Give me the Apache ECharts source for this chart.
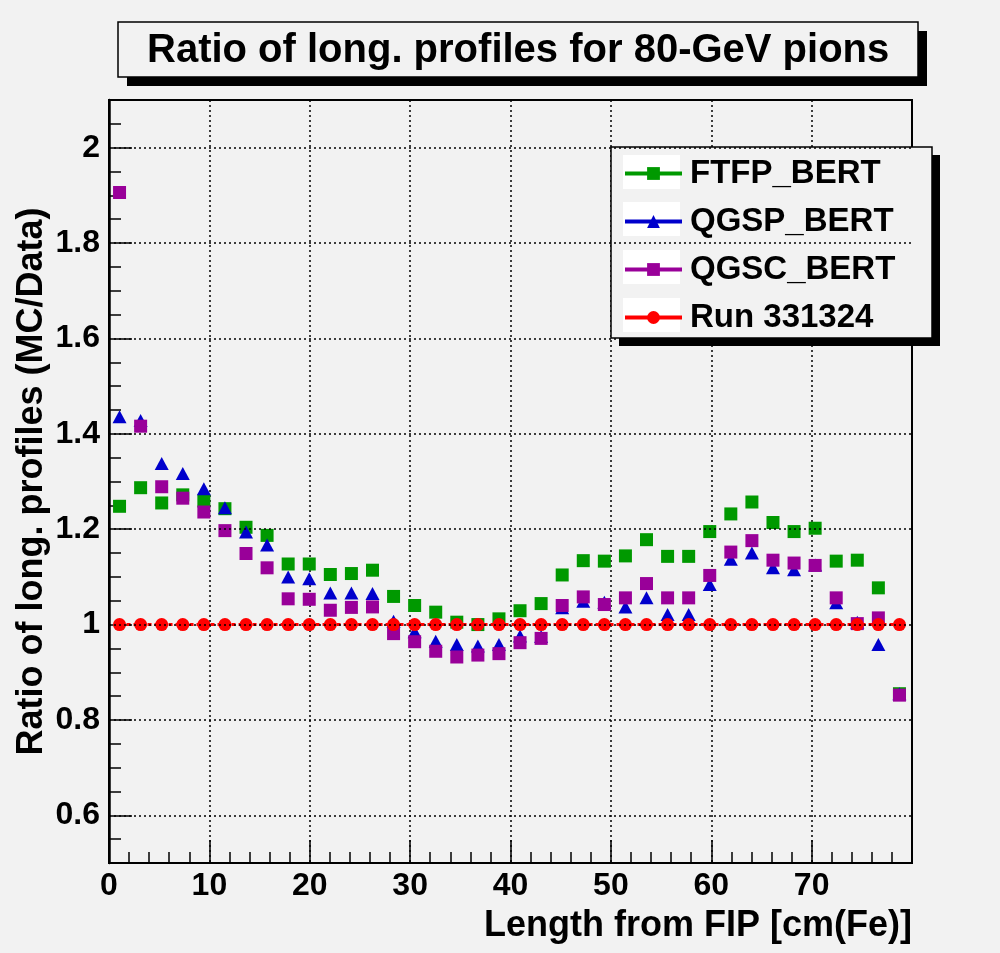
<!DOCTYPE html>
<html>
<head>
<meta charset="utf-8">
<script src="https://cdn.jsdelivr.net/npm/echarts@6/dist/echarts.min.js"></script>
<style>
html,body{margin:0;padding:0;background:#f2f2f2;}
#chart{width:1000px;height:953px;}
</style>
</head>
<body>
<div id="chart"></div>
<script>
// bin centres along the calorimeter (cm Fe)
const xCenters = [1.05,3.15,5.25,7.35,9.45,11.55,13.65,15.75,17.85,19.95,22.05,24.15,26.25,28.35,30.45,32.55,34.65,36.75,38.85,40.95,43.05,45.15,47.25,49.35,51.45,53.55,55.65,57.75,59.85,61.95,64.05,66.15,68.25,70.35,72.45,74.55,76.65,78.75];
const ftfpBert = [1.248,1.287,1.255,1.272,1.259,1.243,1.204,1.187,1.127,1.127,1.105,1.107,1.114,1.059,1.040,1.026,1.005,1.000,1.012,1.029,1.044,1.104,1.134,1.133,1.144,1.178,1.143,1.143,1.195,1.232,1.257,1.214,1.195,1.202,1.133,1.135,1.077,0.855];
const qgspBert = [1.436,1.428,1.338,1.317,1.285,1.245,1.194,1.167,1.100,1.096,1.066,1.066,1.065,1.007,0.985,0.965,0.958,0.955,0.958,0.976,0.975,1.035,1.049,1.047,1.037,1.056,1.021,1.021,1.084,1.137,1.150,1.119,1.115,1.125,1.046,1.005,0.958,0.855];
const qgscBert = [1.906,1.416,1.289,1.265,1.236,1.197,1.149,1.119,1.054,1.053,1.030,1.036,1.037,0.981,0.964,0.944,0.932,0.936,0.939,0.962,0.971,1.040,1.058,1.042,1.056,1.086,1.056,1.056,1.103,1.152,1.176,1.135,1.129,1.124,1.056,1.002,1.014,0.852];
const run331324 = [1,1,1,1,1,1,1,1,1,1,1,1,1,1,1,1,1,1,1,1,1,1,1,1,1,1,1,1,1,1,1,1,1,1,1,1,1,1];
const yMajorTicks = [0.6,0.8,1.0,1.2,1.4,1.6,1.8,2.0];
const yMinorTicks = [0.5,0.55,0.6,0.65,0.7,0.75,0.8,0.85,0.9,0.95,1.0,1.05,1.1,1.15,1.2,1.25,1.3,1.35,1.4,1.45,1.5,1.55,1.6,1.65,1.7,1.75,1.8,1.85,1.9,1.95,2.0,2.05,2.1];
const seriesNames = ['FTFP_BERT','QGSP_BERT','QGSC_BERT','Run 331324'];
const titleText = 'Ratio of long. profiles for 80-GeV pions';

const FONT = '"Liberation Sans", Arial, Helvetica, sans-serif';
function pairs(ys){ return xCenters.map((x,i)=>[x, ys[i]]); }

const chart = echarts.init(document.getElementById('chart'), null, {renderer:'canvas'});
const gridDotted = {color:'#000', width:1.5, type:[2,3]};

const option = {
  backgroundColor:'#f2f2f2',
  animation:false,
  title:{
    text:titleText, left:147, top:31, padding:0, z:6,
    textStyle:{fontFamily:FONT, fontSize:40, fontWeight:'bold', color:'#000'}
  },
  graphic:[
    // title box: shadow then box
    {type:'rect', z:1, shape:{x:127,y:31,width:800,height:55}, style:{fill:'#000'}},
    {type:'rect', z:1, z2:2, shape:{x:118,y:22,width:800,height:55},
     style:{fill:'#f2f2f2', stroke:'#000', lineWidth:1.5}},
    // legend box: shadow then box
    {type:'rect', z:3, shape:{x:619,y:155,width:321,height:191}, style:{fill:'#000'}},
    {type:'rect', z:3, z2:2, shape:{x:611,y:147,width:321,height:191},
     style:{fill:'#f2f2f2', stroke:'#000', lineWidth:1.5}},
    {type:'rect', z:3, z2:5, shape:{x:623,y:155,width:57,height:34}, style:{fill:'#fff'}},
    {type:'rect', z:3, z2:5, shape:{x:623,y:202,width:57,height:34}, style:{fill:'#fff'}},
    {type:'rect', z:3, z2:5, shape:{x:623,y:250,width:57,height:34}, style:{fill:'#fff'}},
    {type:'rect', z:3, z2:5, shape:{x:623,y:298,width:57,height:34}, style:{fill:'#fff'}}
  ],
  legend:{
    data:seriesNames, orient:'vertical', left:623, top:157, z:4,
    itemWidth:57, itemHeight:16, itemGap:15, padding:0,
    lineStyle:{width:4, type:'solid', opacity:1},
    textStyle:{fontFamily:FONT, fontSize:33, fontWeight:'bold', color:'#000', padding:[0,0,0,3]}
  },
  grid:{left:109, right:88, top:100, bottom:90, show:true, backgroundColor:'#f2f2f2', borderColor:'#000', borderWidth:2},
  xAxis:{
    type:'value', min:0, max:80, interval:10,
    name:'Length from FIP [cm(Fe)]', nameLocation:'end', nameGap:0,
    nameTextStyle:{fontFamily:FONT, fontSize:36, fontWeight:'bold', color:'#000', align:'right', verticalAlign:'top', padding:[45,0,0,0]},
    axisLine:{show:true, onZero:false, lineStyle:{color:'#000', width:2}},
    axisTick:{show:true, inside:true, length:23, lineStyle:{color:'#000', width:1.5}},
    minorTick:{show:true, splitNumber:5, length:11, lineStyle:{color:'#000', width:1.5}},
    axisLabel:{fontFamily:FONT, fontSize:32, fontWeight:'bold', color:'#000', margin:7, showMaxLabel:false},
    splitLine:{show:true, lineStyle:gridDotted}
  },
  yAxis:[{
    type:'value', min:0.5, max:2.1,
    name:'Ratio of long. profiles (MC/Data)', nameLocation:'middle', nameGap:59, nameMoveOverlap:false,
    nameTextStyle:{fontFamily:FONT, fontSize:36, fontWeight:'bold', color:'#000'},
    axisLine:{show:true, onZero:false, lineStyle:{color:'#000', width:2.5}},
    axisTick:{show:true, inside:true, length:23, customValues:yMajorTicks, lineStyle:{color:'#000', width:1.5}},
    axisLabel:{customValues:yMajorTicks, fontFamily:FONT, fontSize:32, fontWeight:'bold', color:'#000', margin:9},
    splitLine:{show:false}
  },{
    type:'value', min:0.5, max:2.1, position:'left', offset:0,
    axisLine:{show:false},
    axisTick:{show:true, inside:true, length:12, customValues:yMinorTicks, lineStyle:{color:'#000', width:1.5}},
    axisLabel:{show:false},
    splitLine:{show:false}
  }],
  series:[
    {name:'gridlines', type:'line', data:[], z:1, silent:true,
     markLine:{silent:true, symbol:'none', label:{show:false}, animation:false,
       lineStyle:gridDotted,
       data:yMajorTicks.map(v=>({yAxis:v}))}},
    {name:seriesNames[0], type:'line', data:pairs(ftfpBert), z:2,
     symbol:'rect', symbolSize:13, showSymbol:true,
     itemStyle:{color:'#009900'}, lineStyle:{color:'#009900', width:0, opacity:0}},
    {name:seriesNames[1], type:'line', data:pairs(qgspBert), z:2.1,
     symbol:'triangle', symbolSize:[14,13], showSymbol:true,
     itemStyle:{color:'#0000cc'}, lineStyle:{color:'#0000cc', width:0, opacity:0}},
    {name:seriesNames[2], type:'line', data:pairs(qgscBert), z:2.2,
     symbol:'rect', symbolSize:13, showSymbol:true,
     itemStyle:{color:'#990099'}, lineStyle:{color:'#990099', width:0, opacity:0}},
    {name:seriesNames[3], type:'line', data:pairs(run331324), z:2.3,
     symbol:'circle', symbolSize:13, showSymbol:true,
     itemStyle:{color:'#ff0000'}, lineStyle:{color:'#ff0000', width:3, type:[4,3]}}
  ]
};
chart.setOption(option);
</script>
</body>
</html>
